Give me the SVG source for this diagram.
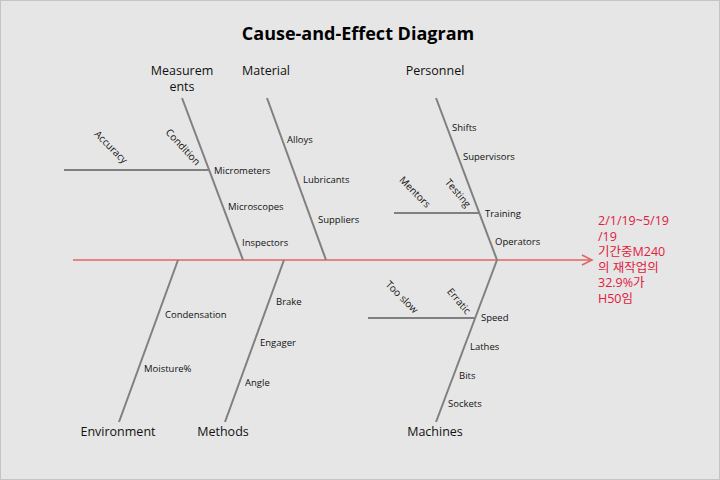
<svg xmlns="http://www.w3.org/2000/svg" width="720" height="480" viewBox="0 0 720 480">
<style>
.bg{fill:#e6e6e6;stroke:#c4c4c4;stroke-width:1}
.bone{stroke:#808080;stroke-width:2;fill:none}
.spine{stroke:#e06464;stroke-width:1.5;fill:none}
.title{font-family:"Open Sans","Noto Sans",sans-serif;font-size:18px;font-weight:bold;fill:#000;text-anchor:middle}
.cat{font-family:"Open Sans","Noto Sans",sans-serif;font-size:12.5px;fill:#111;text-anchor:middle}
.lbl{font-family:"Open Sans","Noto Sans",sans-serif;font-size:9.5px;fill:#111}
.rot{font-family:"Open Sans","Noto Sans",sans-serif;font-size:10px;fill:#111;text-anchor:middle}
.eff{font-family:"Open Sans","Noto Sans CJK KR",sans-serif;font-size:12.5px;fill:#e0203c}
</style>
<rect class="bg" x="0.5" y="0.5" width="719" height="479"/>
<text class="title" x="358" y="40">Cause-and-Effect Diagram</text>

<g id="connectors">
  <line class="spine" x1="73" y1="260" x2="592" y2="260"/>
  <polyline class="spine" points="582,255 592,260 582,265"/>
  <line class="bone" x1="182" y1="98" x2="243" y2="260"/>
  <line class="bone" x1="267" y1="98" x2="326" y2="260"/>
  <line class="bone" x1="436" y1="98" x2="497" y2="260"/>
  <line class="bone" x1="178" y1="260" x2="119" y2="422"/>
  <line class="bone" x1="284" y1="260" x2="225" y2="422"/>
  <line class="bone" x1="497" y1="260" x2="436" y2="422"/>
  <line class="bone" x1="64" y1="170" x2="209" y2="170"/>
  <line class="bone" x1="394" y1="213" x2="479" y2="213"/>
  <line class="bone" x1="368" y1="318" x2="475" y2="318"/>
</g>

<g id="measurements">
  <text class="cat" x="182" y="75">Measurem</text>
  <text class="cat" x="182" y="91">ents</text>
  <text class="lbl" x="214" y="173.5">Micrometers</text>
  <text class="lbl" x="228" y="209.5">Microscopes</text>
  <text class="lbl" x="242" y="245.5">Inspectors</text>
  <text class="rot" x="111" y="150.5" transform="rotate(45 111 147)">Accuracy</text>
  <text class="rot" x="183" y="150.5" transform="rotate(47 183 147)">Condition</text>
</g>
<g id="material">
  <text class="cat" x="266" y="75">Material</text>
  <text class="lbl" x="287" y="142.5">Alloys</text>
  <text class="lbl" x="303" y="183">Lubricants</text>
  <text class="lbl" x="318" y="223">Suppliers</text>
</g>
<g id="personnel">
  <text class="cat" x="435" y="75">Personnel</text>
  <text class="lbl" x="452" y="130.5">Shifts</text>
  <text class="lbl" x="463" y="159.5">Supervisors</text>
  <text class="lbl" x="485" y="217">Training</text>
  <text class="lbl" x="495" y="245">Operators</text>
  <text class="rot" x="415" y="195.5" transform="rotate(45 415 192)">Mentors</text>
  <text class="rot" x="458" y="196.5" transform="rotate(50 458 193)">Testing</text>
</g>
<g id="environment">
  <text class="cat" x="118" y="436">Environment</text>
  <text class="lbl" x="165" y="317.5">Condensation</text>
  <text class="lbl" x="144" y="371.5">Moisture%</text>
</g>
<g id="methods">
  <text class="cat" x="223" y="436">Methods</text>
  <text class="lbl" x="276" y="304.5">Brake</text>
  <text class="lbl" x="260" y="345.5">Engager</text>
  <text class="lbl" x="245" y="385.5">Angle</text>
</g>
<g id="machines">
  <text class="cat" x="435" y="436">Machines</text>
  <text class="lbl" x="481" y="321">Speed</text>
  <text class="lbl" x="470" y="350">Lathes</text>
  <text class="lbl" x="459" y="379">Bits</text>
  <text class="lbl" x="448" y="407">Sockets</text>
  <text class="rot" x="402" y="300.5" transform="rotate(45 402 297)">Too slow</text>
  <text class="rot" x="459" y="304.5" transform="rotate(50 459 301)">Erratic</text>
</g>
<g id="effect">
  <text class="eff" x="598" y="225">2/1/19~5/19</text>
  <text class="eff" x="598" y="240.5">/19</text>
  <text class="eff" x="598" y="256">기간중M240</text>
  <text class="eff" x="598" y="271.5">의 재작업의</text>
  <text class="eff" x="598" y="287">32.9%가</text>
  <text class="eff" x="598" y="302.5">H50임</text>
</g>
</svg>
